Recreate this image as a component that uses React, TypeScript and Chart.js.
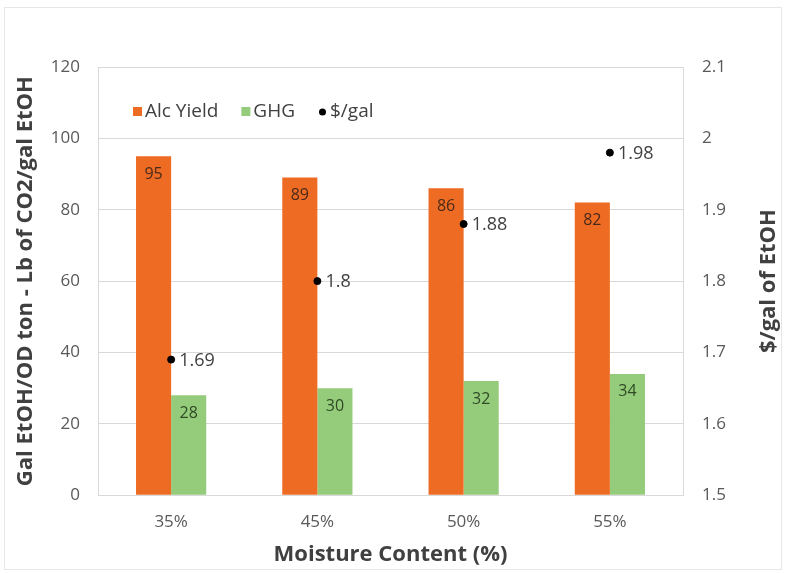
import React, { useEffect, useRef } from 'react';
import { Chart, registerables } from 'chart.js';

Chart.register(...registerables);

const categories = ['35%', '45%', '50%', '55%'];
const alcYield = [95, 89, 86, 82];
const ghg = [28, 30, 32, 34];
const dollarPerGal = [1.69, 1.8, 1.88, 1.98];
const seriesNames = ['Alc Yield', 'GHG', '$/gal'];
const leftTitle = 'Gal EtOH/OD ton - Lb of CO2/gal EtOH';
const rightTitle = '$/gal of EtOH';
const xTitle = 'Moisture Content (%)';

const ORANGE = '#ED6B23';
const GREEN = '#95CC7B';
const FONT = '"Open Sans", Lato, sans-serif';

const bgPlugin = {
  id: 'bgFrame',
  beforeDraw(chart: any) {
    const ctx = chart.ctx;
    ctx.save();
    ctx.fillStyle = '#ffffff';
    ctx.fillRect(0, 0, chart.width, chart.height);
    ctx.strokeStyle = '#e6e6e6';
    ctx.lineWidth = 1;
    ctx.strokeRect(4.5, 7.5, 777, 562);
    ctx.restore();
  },
};

const rightTitlePlugin = {
  id: 'rightTitle',
  afterDraw(chart: any) {
    const ctx = chart.ctx;
    const area = chart.chartArea;
    ctx.save();
    ctx.translate(769, (area.top + area.bottom) / 2);
    ctx.rotate(-Math.PI / 2);
    ctx.font = `bold 22px ${FONT}`;
    ctx.fillStyle = '#404040';
    ctx.textAlign = 'center';
    ctx.textBaseline = 'middle';
    ctx.fillText(rightTitle, 0, 0);
    ctx.restore();
  },
};

const valueLabelPlugin = {
  id: 'valueLabels',
  afterDatasetsDraw(chart: any) {
    const ctx = chart.ctx;
    ctx.save();
    chart.data.datasets.forEach((ds: any, i: number) => {
      const meta = chart.getDatasetMeta(i);
      meta.data.forEach((el: any, j: number) => {
        const v = ds.data[j];
        if (meta.type === 'bar') {
          ctx.font = `16px ${FONT}`;
          ctx.fillStyle = i === 0 ? '#4a2a1a' : '#2f4a25';
          ctx.textAlign = 'center';
          ctx.textBaseline = 'middle';
          ctx.fillText(String(v), el.x, el.y + 18);
        } else {
          ctx.font = `18px ${FONT}`;
          ctx.fillStyle = '#404040';
          ctx.textAlign = 'left';
          ctx.textBaseline = 'middle';
          ctx.fillText(String(v), el.x + 8, el.y + 1);
        }
      });
    });
    ctx.restore();
  },
};

const legendPlugin = {
  id: 'customLegend',
  afterDraw(chart: any) {
    const ctx = chart.ctx;
    ctx.save();
    ctx.font = `19px ${FONT}`;
    ctx.textBaseline = 'middle';
    ctx.textAlign = 'left';
    let x = 133;
    const y = 112;
    chart.data.datasets.forEach((ds: any, i: number) => {
      if (i < 2) {
        ctx.fillStyle = ds.backgroundColor;
        ctx.fillRect(x, y - 5, 9, 9);
      } else {
        ctx.fillStyle = '#000000';
        ctx.beginPath();
        ctx.arc(x + 4.5, y, 3.5, 0, Math.PI * 2);
        ctx.fill();
      }
      x += 12;
      ctx.fillStyle = '#404040';
      ctx.fillText(ds.label, x, y);
      x += ctx.measureText(ds.label).width + 23;
    });
    ctx.restore();
  },
};

export default function App() {
  const ref = useRef<HTMLCanvasElement>(null);
  useEffect(() => {
    document.body.style.margin = '0';
    const canvas = ref.current;
    if (!canvas) return;
    const chart = new Chart(canvas, {
      type: 'bar',
      data: {
        labels: categories,
        datasets: [
          {
            type: 'bar',
            label: seriesNames[0],
            data: alcYield,
            backgroundColor: ORANGE,
            yAxisID: 'y',
            categoryPercentage: 0.48,
            barPercentage: 1.0,
            order: 2,
          } as any,
          {
            type: 'bar',
            label: seriesNames[1],
            data: ghg,
            backgroundColor: GREEN,
            yAxisID: 'y',
            categoryPercentage: 0.48,
            barPercentage: 1.0,
            order: 2,
          } as any,
          {
            type: 'line',
            label: seriesNames[2],
            data: dollarPerGal,
            showLine: false,
            pointRadius: 3.5,
            pointBackgroundColor: '#000000',
            pointBorderColor: '#000000',
            borderColor: '#000000',
            backgroundColor: '#000000',
            yAxisID: 'y1',
            order: 1,
          } as any,
        ],
      },
      options: {
        responsive: false,
        animation: false,
        layout: { padding: { left: 8, right: 8, top: 67, bottom: 5 } },
        plugins: {
          legend: { display: false },
          tooltip: { enabled: false },
        },
        scales: {
          x: {
            grid: { display: false },
            border: { display: true, color: '#d9d9d9' },
            ticks: {
              color: '#595959',
              font: { family: FONT, size: 17 },
              padding: 9,
            },
            title: {
              display: true,
              text: xTitle,
              color: '#404040',
              font: { family: FONT, size: 22, weight: 'bold' },
              padding: { top: 0, bottom: 0 },
            },
          },
          y: {
            position: 'left',
            min: 0,
            max: 120,
            ticks: {
              stepSize: 20,
              color: '#595959',
              font: { family: FONT, size: 17 },
              padding: 18,
            },
            grid: { color: '#d9d9d9', drawTicks: false },
            border: { display: true, color: '#d9d9d9' },
            title: {
              display: true,
              text: leftTitle,
              color: '#404040',
              font: { family: FONT, size: 22, weight: 'bold' },
              padding: { top: 5, bottom: 0 },
            },
            afterFit(scale: any) {
              scale.width = 90;
            },
          },
          y1: {
            position: 'right',
            min: 1.5,
            max: 2.1,
            ticks: {
              stepSize: 0.1,
              color: '#595959',
              font: { family: FONT, size: 17 },
              padding: 19,
              callback: (v: any) => String(Number(Number(v).toFixed(1))),
            },
            grid: { display: false, drawTicks: false },
            border: { display: true, color: '#d9d9d9' },
            title: { display: false },
            afterFit(scale: any) {
              scale.width = 97;
            },
          },
        },
      } as any,
      plugins: [bgPlugin, valueLabelPlugin, legendPlugin, rightTitlePlugin],
    });
    return () => chart.destroy();
  }, []);
  return (
    <div style={{ width: 788, height: 573 }}>
      <canvas ref={ref} width={788} height={573} />
    </div>
  );
}
